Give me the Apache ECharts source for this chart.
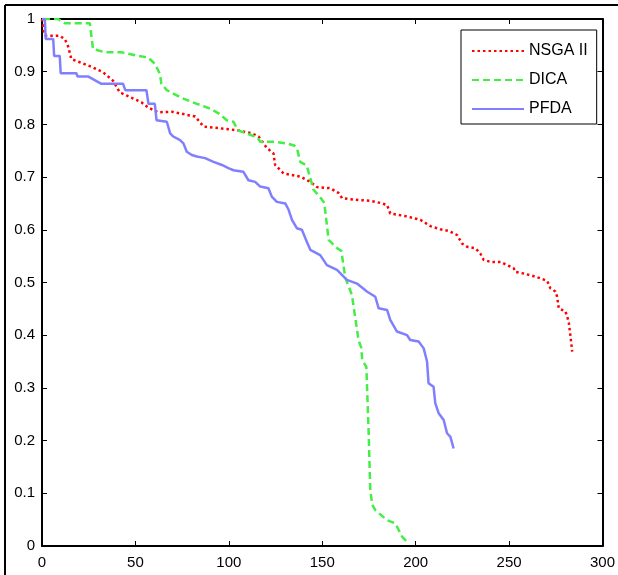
<!DOCTYPE html>
<html>
<head>
<meta charset="utf-8">
<script src="https://cdn.jsdelivr.net/npm/echarts@6/dist/echarts.min.js"></script>
<style>
html,body{margin:0;padding:0;background:#fff;}
#chart{width:618px;height:575px;}
</style>
</head>
<body>
<div id="chart"></div>
<script>
const seriesNames = ['NSGA II', 'DICA', 'PFDA'];
const xTicks = { min: 0, max: 300, interval: 50 };
const yTicks = { min: 0, max: 1, interval: 0.1 };

const nsgaII = [
  [0,1.0],[1,0.975],[2,0.968],[9.5,0.968],[12.2,0.962],[13.9,0.949],[15.7,0.924],[20.2,0.918],
  [27.3,0.908],[32.7,0.899],[38.0,0.883],[41.6,0.861],[45.2,0.855],[53.2,0.842],[56.8,0.832],
  [62.1,0.823],[69.5,0.824],[82.0,0.815],[86.4,0.796],[94.4,0.793],[104.3,0.789],[112.3,0.783],
  [115.9,0.777],[120.4,0.755],[123.9,0.745],[124.8,0.723],[129.3,0.707],[138.2,0.701],[143.6,0.691],
  [147.2,0.681],[154.3,0.679],[158.7,0.670],[160.6,0.660],[167.7,0.657],[175.7,0.655],[181.1,0.651],
  [184.7,0.647],[186.4,0.631],[194.5,0.626],[202.5,0.619],[207.9,0.607],[213.2,0.601],[217.7,0.598],
  [222.2,0.590],[224.8,0.574],[227.5,0.568],[232.0,0.565],[234.6,0.555],[236.4,0.543],[240,0.539],
  [245.4,0.539],[249.0,0.533],[252.5,0.527],[253.4,0.520],[257.8,0.517],[263.2,0.512],[266.8,0.508],
  [270.4,0.503],[272.1,0.489],[274.8,0.483],[275.7,0.473],[276.6,0.451],[280.2,0.445],[281.9,0.426],
  [282.9,0.397],[283.8,0.369]
];

const dica = [
  [0.5,1.0],[8.6,1.0],[12.2,0.992],[25.6,0.992],[27.3,0.943],[33.6,0.937],[42.5,0.937],[51.4,0.930],
  [56.8,0.927],[60.4,0.915],[63.1,0.896],[63.9,0.877],[66.8,0.865],[74.8,0.850],[82.9,0.839],
  [90.0,0.830],[94.5,0.821],[98.9,0.808],[102.5,0.805],[104.7,0.789],[110.1,0.782],[115.4,0.775],
  [116.8,0.767],[123.9,0.767],[130.7,0.764],[135,0.760],[136.6,0.753],[138.2,0.729],[141.7,0.722],
  [143.6,0.698],[145.3,0.676],[148.9,0.662],[151.1,0.651],[153.4,0.581],[158.0,0.565],[160.2,0.560],
  [162.3,0.510],[165.9,0.476],[169.4,0.391],[170.9,0.376],[171.4,0.353],[173.6,0.340],[174.8,0.220],
  [175.7,0.106],[176.8,0.078],[178.4,0.068],[184.7,0.049],[189.1,0.043],[192.7,0.018],[196.2,0.005]
];

const pfda = [
  [0,1.0],[1.5,1.0],[2,0.962],[6,0.962],[6.5,0.930],[9.5,0.930],[10,0.897],[18.4,0.897],[19,0.891],
  [24.6,0.891],[31.8,0.877],[43.4,0.877],[44.6,0.865],[55.9,0.865],[57,0.839],[60.4,0.839],[61.3,0.808],
  [66.8,0.805],[68.6,0.783],[70.3,0.777],[73.9,0.770],[75.7,0.764],[77.5,0.748],[80.2,0.742],[82.9,0.739],
  [87.3,0.736],[91.8,0.729],[96.3,0.723],[99.8,0.717],[102.5,0.713],[107.8,0.710],[110.5,0.694],
  [114.1,0.691],[116.8,0.682],[121.2,0.679],[123.0,0.663],[125.7,0.653],[130.2,0.650],[132.0,0.638],
  [133.8,0.619],[136.4,0.603],[139.1,0.600],[141.8,0.577],[143.6,0.562],[148.9,0.552],[152.5,0.533],
  [157.9,0.524],[163.2,0.505],[168.6,0.498],[173.9,0.483],[178.4,0.473],[180.2,0.451],[184.7,0.448],
  [186.4,0.429],[190.0,0.407],[195.4,0.400],[197.1,0.391],[201.6,0.388],[204.3,0.375],[206.1,0.350],
  [206.9,0.309],[209.6,0.302],[210.5,0.271],[212.3,0.252],[215.0,0.239],[216.8,0.214],[218.6,0.207],
  [220.3,0.185]
];

const FONT = 'Liberation Sans, Arial, sans-serif';
const chart = echarts.init(document.getElementById('chart'), null, { renderer: 'canvas' });

function axisCommon(extra) {
  return Object.assign({
    type: 'value',
    axisLine: { show: true, onZero: false, lineStyle: { color: '#000', width: 2 } },
    axisTick: { show: true, inside: true, length: 5, lineStyle: { color: '#000', width: 1 } },
    splitLine: { show: false },
    axisLabel: { color: '#000', fontSize: 15, fontFamily: FONT }
  }, extra);
}

const styles = [
  { color: '#ff0000', width: 2.5, type: [2.5, 3] },
  { color: '#44ee44', width: 2.5, type: [7, 4] },
  { color: '#7f7fff', width: 2.5, type: 'solid' }
];

const option = {
  animation: false,
  backgroundColor: '#fff',
  grid: { left: 42, top: 19, right: 15, bottom: 29, containLabel: false },
  xAxis: [
    axisCommon({ position: 'bottom', min: xTicks.min, max: xTicks.max, interval: xTicks.interval,
      axisLabel: { color: '#000', fontSize: 15, fontFamily: FONT, margin: 9 } }),
    axisCommon({ position: 'top', min: xTicks.min, max: xTicks.max, interval: xTicks.interval,
      axisLabel: { show: false } })
  ],
  yAxis: [
    axisCommon({ position: 'left', min: yTicks.min, max: yTicks.max, interval: yTicks.interval,
      axisLabel: { color: '#000', fontSize: 15, fontFamily: FONT, margin: 7,
        formatter: v => String(Math.round(v * 10) / 10) } }),
    axisCommon({ position: 'right', min: yTicks.min, max: yTicks.max, interval: yTicks.interval,
      axisLabel: { show: false } })
  ],
  legend: {
    show: true,
    orient: 'vertical',
    left: 461, top: 30,
    padding: [13, 9, 7, 10],
    backgroundColor: '#fff',
    borderColor: '#000', borderWidth: 1,
    itemWidth: 52, itemHeight: 14, itemGap: 13,
    itemStyle: { opacity: 0 },
    textStyle: { color: '#000', fontSize: 16, fontFamily: FONT, lineHeight: 16 },
    data: seriesNames
  },
  series: [
    { name: seriesNames[0], type: 'line', data: nsgaII, showSymbol: false, symbol: 'none',
      lineStyle: styles[0], itemStyle: { color: styles[0].color } },
    { name: seriesNames[1], type: 'line', data: dica, showSymbol: false, symbol: 'none',
      lineStyle: styles[1], itemStyle: { color: styles[1].color } },
    { name: seriesNames[2], type: 'line', data: pfda, showSymbol: false, symbol: 'none',
      lineStyle: styles[2], itemStyle: { color: styles[2].color } }
  ],
  graphic: [
    { type: 'line', shape: { x1: 5, y1: 5, x2: 5, y2: 575 }, style: { stroke: '#000', lineWidth: 2 } },
    { type: 'line', shape: { x1: 5, y1: 5, x2: 618, y2: 5 }, style: { stroke: '#000', lineWidth: 2 } }
  ]
};
chart.setOption(option);
</script>
</body>
</html>
